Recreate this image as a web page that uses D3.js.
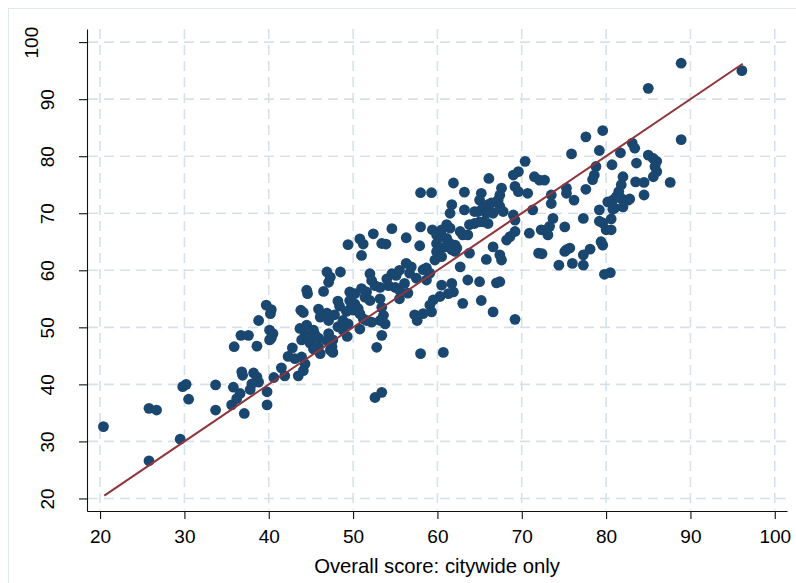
<!DOCTYPE html>
<html>
<head>
<meta charset="utf-8">
<script src="https://cdn.jsdelivr.net/npm/d3@7/dist/d3.min.js"></script>
<style>
  body { margin: 0; background: #fff; }
  svg { display: block; font-family: 'Liberation Sans', Arial, sans-serif; }
</style>
</head>
<body>
<div id="chart"></div>
<script>
/* global d3 */

const xTicks = [20, 30, 40, 50, 60, 70, 80, 90, 100]
const yTicks = [20, 30, 40, 50, 60, 70, 80, 90, 100]
const xTitle = 'Overall score: citywide only'

// 45 degree reference line, drawn from the lowest to the highest citywide score
const fitRange = [20.5, 96.2]

// [citywide score, overall score]
const lowScores = [
  [20.4, 32.6], [25.8, 35.8], [26.7, 35.5], [25.8, 26.6], [29.5, 30.4], [29.8, 39.6], [30.2, 40.0], [30.5, 37.4],
  [33.7, 39.9], [33.7, 35.5], [35.8, 39.5], [35.9, 46.6], [36.7, 48.6], [37.6, 48.6], [38.6, 46.7], [36.8, 42.2],
  [36.9, 41.6], [38.2, 42.0], [38.6, 41.3], [38.8, 40.4], [38.0, 40.1], [37.8, 39.1], [36.6, 38.4], [36.2, 37.5],
  [35.6, 36.4], [37.1, 34.9], [39.8, 38.7], [39.8, 36.4], [40.1, 47.8], [39.7, 53.9], [40.3, 53.1], [40.2, 52.4],
  [38.8, 51.2], [40.1, 49.5], [40.5, 48.9], [40.3, 48.1], [42.8, 46.4], [42.3, 44.9], [43.1, 44.5], [41.5, 42.9],
  [43.5, 41.5], [40.6, 41.2], [41.9, 41.5], [43.8, 53.0], [43.7, 49.8], [43.9, 47.8]
]

const midScores = [
  [44.1, 52.6], [44.5, 50.4], [45.3, 49.5], [45.5, 48.7], [44.9, 48.4], [44.3, 48.7], [44.9, 47.2], [45.9, 48.1],
  [45.9, 46.6], [46.1, 45.4], [45.9, 53.2], [46.9, 52.5], [43.9, 44.8], [44.3, 43.6], [44.1, 42.4], [45.3, 46.2],
  [46.1, 51.8], [47.1, 48.9], [47.6, 47.8], [47.5, 46.6], [47.3, 46.0], [48.2, 50.1], [48.8, 49.5], [49.3, 48.4],
  [47.8, 52.2], [49.2, 52.8], [49.8, 53.6], [48.2, 54.6], [48.4, 53.7], [47.6, 45.6], [46.9, 47.7], [48.8, 51.2],
  [49.4, 50.6], [47.1, 51.2], [49.6, 54.7], [54.6, 67.3], [49.4, 64.5], [50.8, 65.5], [51.2, 64.6], [52.4, 66.4],
  [53.4, 64.7], [53.9, 64.6], [51.0, 62.6], [46.9, 59.7], [47.3, 58.8], [47.1, 57.9], [48.5, 59.7], [44.5, 56.5],
  [44.6, 55.9], [46.5, 56.3], [50.2, 54.1], [50.0, 53.0], [50.6, 53.3], [49.6, 56.2], [50.2, 55.9], [51.0, 56.8],
  [51.6, 56.2], [51.4, 55.3], [52.0, 54.7], [50.8, 52.4], [51.2, 51.5], [51.6, 51.2], [52.2, 50.9], [50.8, 49.7],
  [52.0, 59.4], [52.2, 58.2], [52.6, 57.3], [53.2, 57.0], [53.2, 55.0], [53.4, 53.5], [53.6, 52.1], [53.2, 51.2],
  [53.8, 50.6], [53.4, 48.6], [52.8, 46.5], [54.0, 58.5], [54.6, 59.4], [55.1, 59.1], [55.5, 60.0], [54.2, 57.3],
  [55.0, 57.0], [55.5, 56.5], [55.5, 55.0], [58.0, 45.4], [60.7, 45.6], [52.6, 37.7], [53.4, 38.6]
]

const upperScores = [
  [66.1, 76.1], [69.0, 76.7], [69.6, 77.3], [61.9, 75.3], [58.0, 73.6], [59.3, 73.6], [63.2, 73.7], [65.2, 73.5],
  [65.0, 72.3], [67.6, 74.4], [67.4, 73.2], [67.2, 72.3], [69.2, 74.7], [69.6, 73.8], [61.7, 71.5], [61.5, 70.0],
  [63.2, 70.6], [64.4, 70.3], [64.8, 70.3], [65.4, 70.9], [66.0, 71.5], [66.4, 71.8], [67.0, 72.0], [67.4, 71.2],
  [66.6, 70.0], [65.8, 70.0], [65.4, 68.5], [66.0, 68.2], [67.8, 70.3], [69.0, 69.7], [69.2, 68.8], [69.2, 66.8],
  [68.6, 65.9], [68.2, 65.3], [63.8, 68.0], [64.4, 68.2], [65.0, 68.5], [61.1, 68.0], [61.5, 67.4], [60.5, 67.1],
  [62.7, 66.8], [63.0, 66.2], [63.6, 66.2], [59.4, 67.1], [59.9, 66.2], [60.5, 65.9], [61.1, 65.6], [58.0, 67.6],
  [56.3, 65.7], [59.9, 64.7], [60.3, 63.9], [60.9, 64.1], [61.5, 64.7], [62.1, 64.4], [62.3, 63.9], [59.9, 63.3],
  [60.5, 62.4], [59.7, 61.8], [61.7, 63.6], [62.1, 63.3], [57.9, 64.3], [63.8, 63.0], [66.6, 64.1], [65.8, 61.9],
  [67.4, 62.7], [67.6, 61.8], [62.7, 60.6], [59.1, 59.5], [58.3, 60.1], [58.7, 60.4], [56.3, 61.2], [56.9, 60.6],
  [56.7, 59.5], [57.5, 58.6], [56.1, 57.7], [56.5, 56.0], [60.5, 57.4], [61.7, 57.7], [61.9, 56.2], [61.3, 55.9],
  [60.3, 55.4], [59.5, 54.8], [59.1, 53.9], [59.3, 52.7], [58.3, 52.4], [57.3, 52.2], [63.6, 58.3], [65.0, 58.0],
  [67.0, 57.8], [63.0, 54.2], [65.2, 54.7], [66.6, 52.7], [69.2, 51.4], [67.4, 58.0], [57.6, 51.2], [58.7, 58.3]
]

const topScores = [
  [77.6, 83.4], [79.6, 84.5], [83.1, 82.3], [83.4, 81.4], [75.9, 80.4], [79.2, 81.0], [81.7, 80.6], [85.0, 80.2],
  [85.6, 79.6], [86.0, 79.1], [85.8, 78.2], [86.0, 77.3], [85.6, 76.4], [83.6, 78.8], [80.7, 78.5], [78.8, 78.2],
  [78.6, 76.7], [78.4, 75.9], [82.0, 76.4], [81.8, 75.0], [81.5, 73.8], [83.5, 75.5], [84.5, 75.4], [84.5, 73.2],
  [77.6, 74.2], [80.2, 72.0], [80.8, 72.3], [81.2, 72.9], [81.8, 72.6], [82.6, 72.3], [81.0, 70.9], [82.0, 71.1],
  [79.2, 70.6], [80.6, 69.0], [79.6, 68.3], [79.2, 68.6], [80.0, 67.1], [80.6, 67.1], [79.4, 65.0], [79.6, 64.4],
  [78.1, 63.7], [77.3, 62.7], [77.3, 60.9], [76.0, 61.2], [74.4, 60.9], [79.8, 59.3], [80.5, 59.6], [75.3, 63.6],
  [75.7, 63.9], [75.1, 63.3], [72.0, 63.0], [72.4, 62.9], [75.1, 67.6], [77.3, 69.1], [73.7, 69.1], [73.3, 67.7],
  [72.9, 67.1], [72.3, 67.1], [73.1, 66.2], [70.9, 66.5], [71.3, 70.6], [73.5, 73.2], [73.5, 71.7], [75.3, 74.4],
  [75.3, 73.5], [76.2, 72.3], [71.5, 76.4], [72.1, 75.8], [72.7, 75.8], [70.4, 79.1], [70.7, 73.5], [88.9, 96.3],
  [96.1, 95.0], [85.0, 91.9], [88.9, 82.9], [87.6, 75.4], [82.8, 72.5], [80.8, 70.7]
]

const points = [...lowScores, ...midScores, ...upperScores, ...topScores]

const width = 796
const height = 583
const plot = { left: 87, right: 787, top: 29, bottom: 511 }

const xScale = d3.scaleLinear()
  .domain([18.45, 101.45])
  .range([plot.left, plot.right])

const yScale = d3.scaleLinear()
  .domain([17.8, 102.3])
  .range([plot.bottom, plot.top])

const svg = d3.select('#chart').append('svg')
  .attr('width', width)
  .attr('height', height)

// faint graph region outline (only top and left show in the frame)
svg.append('rect')
  .attr('x', 8.5)
  .attr('y', 8.5)
  .attr('width', width + 20)
  .attr('height', height + 20)
  .attr('fill', 'none')
  .attr('stroke', '#e1e9ed')

// dashed grid
const grid = svg.append('g')
  .attr('stroke', '#d6e2e9')
  .attr('stroke-width', 1.6)
  .attr('stroke-dasharray', '10,6')

grid.selectAll('.hgrid')
  .data(yTicks)
  .enter().append('line')
  .attr('x1', plot.left + 1)
  .attr('x2', plot.right)
  .attr('y1', d => yScale(d))
  .attr('y2', d => yScale(d))

grid.selectAll('.vgrid')
  .data(xTicks)
  .enter().append('line')
  .attr('x1', d => xScale(d))
  .attr('x2', d => xScale(d))
  .attr('y1', plot.top)
  .attr('y2', plot.bottom - 1)

// x axis
const xAxis = svg.append('g')
  .attr('transform', `translate(0,${plot.bottom})`)
  .call(d3.axisBottom(xScale)
    .tickValues(xTicks)
    .tickSize(8)
    .tickSizeOuter(0)
    .tickPadding(10.5))

xAxis.selectAll('text')
  .attr('font-size', 19)
  .attr('fill', '#000')

// y axis, labels turned to read upward
const yAxis = svg.append('g')
  .attr('transform', `translate(${plot.left},0)`)
  .call(d3.axisLeft(yScale)
    .tickValues(yTicks)
    .tickSize(8)
    .tickSizeOuter(0))

yAxis.selectAll('text')
  .attr('font-size', 19)
  .attr('fill', '#000')
  .attr('x', 0)
  .attr('dy', 0)
  .attr('text-anchor', 'middle')
  .attr('transform', d => {
    const baseX = 54 - (String(d).length - 2) * 16
    return `translate(${baseX - plot.left},0) rotate(-90)`
  })

svg.selectAll('.domain, .tick line')
  .attr('stroke', '#111')
  .attr('stroke-width', 1.1)

// scatter
svg.append('g')
  .selectAll('circle')
  .data(points)
  .enter().append('circle')
  .attr('cx', d => xScale(d[0]))
  .attr('cy', d => yScale(d[1]))
  .attr('r', 5.4)
  .attr('fill', '#1a476f')

// y = x line over the points
svg.append('path')
  .datum(fitRange.map(v => [v, v]))
  .attr('fill', 'none')
  .attr('stroke', '#90353b')
  .attr('stroke-width', 2)
  .attr('d', d3.line()
    .x(d => xScale(d[0]))
    .y(d => yScale(d[1])))

svg.append('text')
  .attr('x', (plot.left + plot.right) / 2)
  .attr('y', 573)
  .attr('text-anchor', 'middle')
  .attr('font-size', 20.3)
  .attr('fill', '#000')
  .text(xTitle)
</script>
</body>
</html>
